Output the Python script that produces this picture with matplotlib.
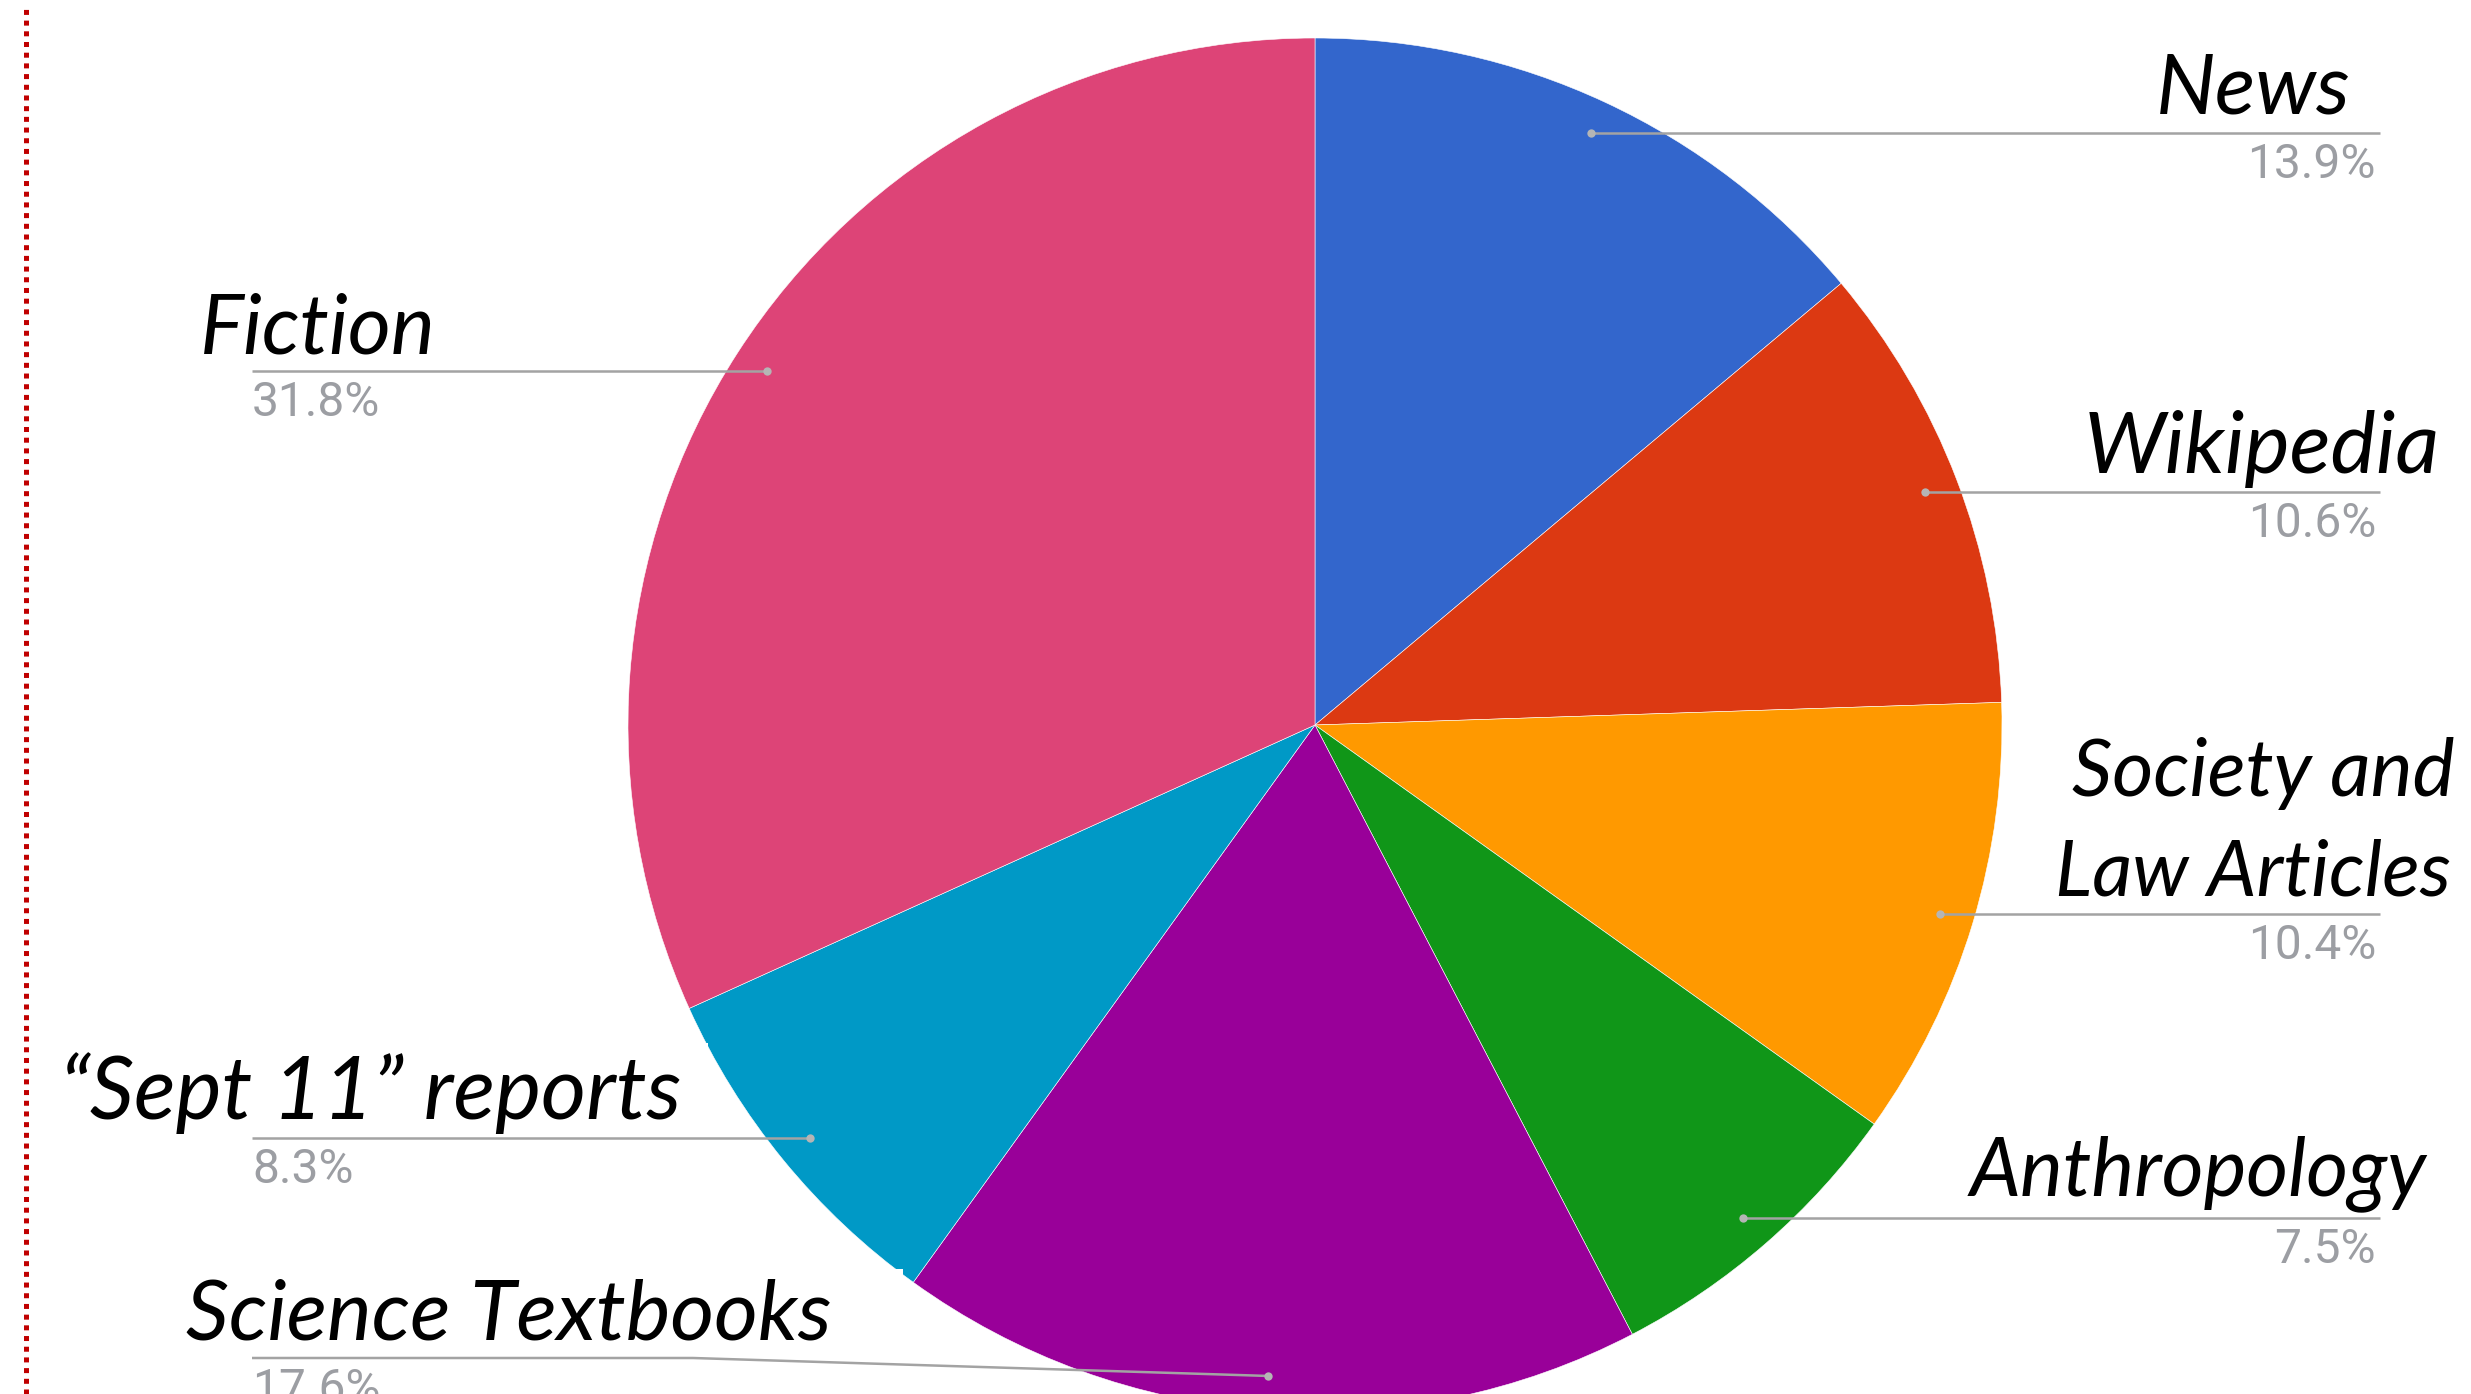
import matplotlib
matplotlib.use("Agg")
import matplotlib.pyplot as plt
from matplotlib.patches import Rectangle
import numpy as np

plt.rcParams["lines.scale_dashes"] = False

W, H, DPI = 2471, 1394, 100

# --- data -------------------------------------------------------------
categories = ["News", "Wikipedia", "Society and\nLaw Articles", "Anthropology",
              "Science Textbooks", "\u201cSept 11\u201d reports", "Fiction"]
shares = [13.9, 10.6, 10.4, 7.5, 17.6, 8.3, 31.8]
pct_labels = ["13.9%", "10.6%", "10.4%", "7.5%", "17.6%", "8.3%", "31.8%"]
colors = ["#3366CC", "#DC3912", "#FF9900", "#109618", "#990099", "#0099C6", "#DD4477"]

# --- label layout (pixel space, y measured from the top) ---------------
# side, [(right-or-left x, baseline y, target width) per text line]
label_layout = [
    ("R", [(2351, 113, 195)]),
    ("R", [(2440, 473, 356)]),
    ("R", [(2455, 796, 383), (2451, 895, 396)]),
    ("R", [(2427, 1195, 457)]),
    ("L", [(186, 1340, 646)]),
    ("L", [(60, 1119, 622)]),
    ("L", [(200, 353, 236)]),
]
RIGHT_END, LEFT_END = 2380, 252
PCT_OFFSET = 45
SCIENCE_ELBOW = (693, 1358)

GRAY_LINE = "#A3A3A3"
GRAY_TEXT = "#9C9EA3"

fig = plt.figure(figsize=(W / DPI, H / DPI), dpi=DPI)
ax = fig.add_axes([0, 0, 1, 1])


def Y(y):
    return H - y


CX, CY, R = 1315, Y(725), 687
wedges, _ = ax.pie(shares, colors=colors, startangle=90, counterclock=False,
                   center=(CX, CY), radius=R, frame=True,
                   wedgeprops=dict(edgecolor="white", linewidth=0.4))

ax.set_xlim(0, W)
ax.set_ylim(0, H)
ax.set_aspect("equal")
ax.axis("off")

# white label backdrops that nick the pie edge
ax.add_patch(Rectangle((40, Y(1134)), 708 - 40, 1134 - 1043, facecolor="white",
                       edgecolor="none", zorder=3))
ax.add_patch(Rectangle((100, Y(1352)), 903 - 100, 1352 - 1269, facecolor="white",
                       edgecolor="none", zorder=3))

renderer = fig.canvas.get_renderer()
name_font = dict(family=["Lato", "DejaVu Sans"], style="italic", color="black")

for w, name, pct, (side, lines) in zip(wedges, categories, pct_labels, label_layout):
    mid = np.deg2rad((w.theta1 + w.theta2) / 2)
    dx = CX + 0.95 * R * np.cos(mid)
    dy = CY + 0.95 * R * np.sin(mid)

    # leader line and anchor dot
    if side == "R":
        ax.plot([dx, RIGHT_END], [dy, dy], color=GRAY_LINE, lw=1.8, zorder=4,
                solid_capstyle="butt")
        line_y = dy
    elif name.startswith("Science"):
        ex, ey = SCIENCE_ELBOW
        ax.plot([LEFT_END, ex, dx], [Y(ey), Y(ey), dy], color=GRAY_LINE, lw=1.8,
                zorder=4, solid_capstyle="butt")
        line_y = Y(ey)
    else:
        ax.plot([LEFT_END, dx], [dy, dy], color=GRAY_LINE, lw=1.8, zorder=4,
                solid_capstyle="butt")
        line_y = dy
    ax.plot(dx, dy, "o", ms=6, color="#B5B5B5", mec="none", zorder=5)

    # category name (one text per line so each line sits on its own baseline)
    for txt, (lx, ly, tw) in zip(name.split("\n"), lines):
        t = ax.text(lx, Y(ly), txt, ha="right" if side == "R" else "left",
                    va="baseline", fontsize=56, zorder=6, **name_font)
        bb = t.get_window_extent(renderer)
        t.set_fontsize(56 * tw / bb.width)

    # percentage
    px = RIGHT_END - 4 if side == "R" else LEFT_END
    ax.text(px, line_y - PCT_OFFSET, pct, ha="right" if side == "R" else "left",
            va="baseline", fontsize=34.5, color=GRAY_TEXT,
            family=["Roboto", "DejaVu Sans"], zorder=6)

# dotted red guide on the left edge
ax.plot([26, 26], [0, H - 4], color="#C00000", lw=3.6, dashes=(3.6, 4.1),
        solid_capstyle="butt", dash_capstyle="butt", zorder=2)

fig.savefig("out.png", dpi=DPI, facecolor="white")
